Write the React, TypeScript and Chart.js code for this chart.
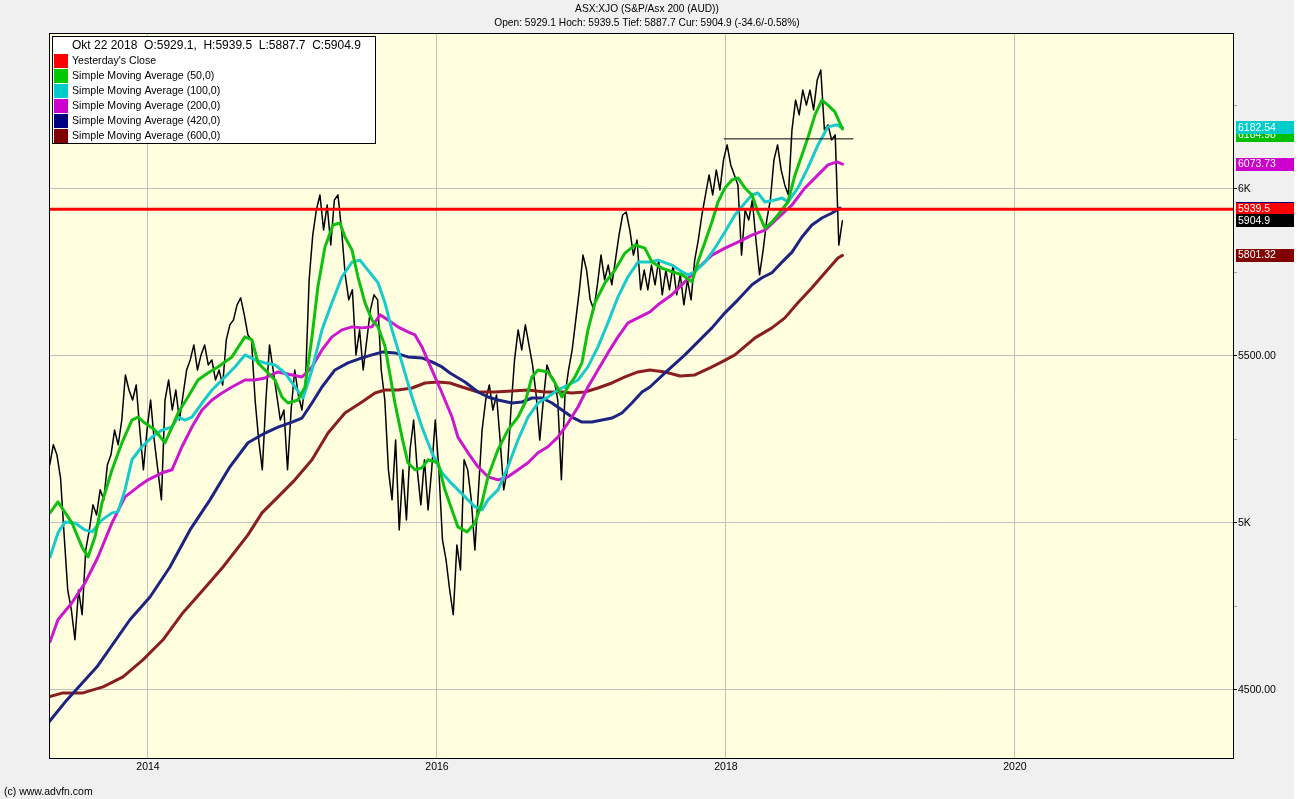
import React, { useEffect, useRef } from 'react';
import { Chart, registerables } from 'chart.js';

Chart.register(...registerables);

// ---------- axis ranges ----------
const X_MIN = 2013.315;
const X_MAX = 2021.516;
const Y_MIN = 4296;
const Y_MAX = 6467;
const xTicks = [2014, 2016, 2018, 2020];
const yTicks = [4500, 4750, 5000, 5250, 5500, 5750, 6000, 6250];
const yTickLabels: Record<number, string> = { 4500: '4500.00', 5000: '5K', 5500: '5500.00', 6000: '6K' };

// ---------- texts ----------
const titleLines = ['ASX:XJO (S&P/Asx 200 (AUD))', 'Open: 5929.1 Hoch: 5939.5 Tief: 5887.7 Cur: 5904.9 (-34.6/-0.58%)'];
const legendHeader = 'Okt 22 2018  O:5929.1,  H:5939.5  L:5887.7  C:5904.9';
const legendLabels = [
  "Yesterday's Close",
  'Simple Moving Average (50,0)',
  'Simple Moving Average (100,0)',
  'Simple Moving Average (200,0)',
  'Simple Moving Average (420,0)',
  'Simple Moving Average (600,0)',
];
const footerText = '(c) www.advfn.com';

// ---------- price (close), evenly spaced dates ----------
const PRICE_START = 2013.32;
const PRICE_END = 2018.806;
const priceValues = [
  5174, 5234, 5204, 5135, 4964, 4799, 4740, 4650, 4799, 4725,
  4919, 4979, 5054, 5024, 5099, 5069, 5174, 5204, 5278, 5234,
  5308, 5443, 5398, 5368, 5413, 5278, 5159, 5278, 5368, 5248,
  5159, 5069, 5368, 5428, 5338, 5398, 5308, 5383, 5458, 5488,
  5533, 5458, 5503, 5533, 5473, 5488, 5428, 5458, 5413, 5548,
  5593, 5608, 5653, 5674, 5623, 5563, 5548, 5368, 5248, 5159,
  5368, 5533, 5458, 5383, 5308, 5338, 5159, 5338, 5458, 5383,
  5338, 5428, 5728, 5862, 5937, 5982, 5877, 5952, 5832, 5967,
  5982, 5877, 5743, 5668, 5698, 5503, 5578, 5458, 5548, 5638,
  5683, 5668, 5458, 5368, 5159, 5069, 5248, 4979, 5159, 5009,
  5219, 5308, 5159, 5054, 5189, 5039, 5159, 5308, 5159, 4949,
  4889, 4799, 4725, 4934, 4859, 5189, 5159, 5069, 4919, 5099,
  5278, 5368, 5413, 5338, 5383, 5248, 5099, 5159, 5338, 5488,
  5578, 5518, 5593, 5533, 5473, 5383, 5248, 5368, 5473, 5443,
  5428, 5368, 5129, 5383, 5458, 5518, 5608, 5698, 5802, 5757,
  5668, 5638, 5713, 5802, 5728, 5772, 5713, 5787, 5862, 5922,
  5931, 5877, 5802, 5847, 5698, 5757, 5698, 5772, 5713, 5787,
  5683, 5757, 5698, 5772, 5683, 5743, 5653, 5728, 5668, 5787,
  5847, 5922, 5982, 6042, 5982, 6057, 5997, 6087, 6132, 6072,
  6042, 6012, 5802, 5937, 5907, 5967, 5847, 5743, 5817, 5907,
  5967, 6087, 6132, 6057, 6012, 5982, 6177, 6266, 6222, 6296,
  6251, 6296, 6237, 6326, 6356, 6177, 6192, 6147, 6162, 5832,
  5904.9,
];

// ---------- moving averages [year, value] ----------
const sma50 = [
  [2013.322, 5030], [2013.377, 5063], [2013.474, 5000], [2013.543, 4928], [2013.585, 4898], [2013.633, 4958],
  [2013.682, 5060], [2013.751, 5159], [2013.820, 5240], [2013.889, 5308], [2013.931, 5317], [2013.979, 5299],
  [2014.048, 5278], [2014.118, 5240], [2014.166, 5287], [2014.208, 5329], [2014.277, 5377], [2014.346, 5428],
  [2014.415, 5449], [2014.484, 5467], [2014.581, 5497], [2014.671, 5557], [2014.720, 5548], [2014.761, 5479],
  [2014.810, 5458], [2014.879, 5428], [2014.927, 5377], [2014.969, 5359], [2015.038, 5368], [2015.087, 5407],
  [2015.135, 5557], [2015.176, 5707], [2015.225, 5826], [2015.280, 5892], [2015.329, 5898], [2015.363, 5856],
  [2015.412, 5817], [2015.453, 5737], [2015.502, 5659], [2015.550, 5608], [2015.592, 5587], [2015.640, 5530],
  [2015.709, 5359], [2015.758, 5257], [2015.799, 5180], [2015.848, 5159], [2015.896, 5165], [2015.938, 5189],
  [2016.007, 5180], [2016.055, 5099], [2016.104, 5039], [2016.145, 4988], [2016.208, 4973], [2016.263, 5000],
  [2016.311, 5060], [2016.353, 5138], [2016.422, 5219], [2016.491, 5278], [2016.561, 5317], [2016.609, 5359],
  [2016.657, 5437], [2016.699, 5458], [2016.768, 5452], [2016.817, 5419], [2016.865, 5377], [2016.907, 5407],
  [2016.955, 5437], [2017.003, 5479], [2017.045, 5578], [2017.093, 5659], [2017.163, 5719], [2017.232, 5757],
  [2017.301, 5808], [2017.370, 5832], [2017.439, 5823], [2017.488, 5781], [2017.557, 5763], [2017.626, 5752],
  [2017.696, 5743], [2017.765, 5722], [2017.806, 5781], [2017.855, 5841], [2017.903, 5901], [2017.945, 5961],
  [2017.993, 6003], [2018.042, 6027], [2018.083, 6033], [2018.131, 6003], [2018.180, 5982], [2018.221, 5931],
  [2018.270, 5883], [2018.318, 5901], [2018.360, 5922], [2018.429, 5961], [2018.478, 6042], [2018.526, 6102],
  [2018.567, 6153], [2018.616, 6222], [2018.664, 6266], [2018.706, 6251], [2018.754, 6231], [2018.806, 6180],
];

const sma100 = [
  [2013.322, 4898], [2013.377, 4970], [2013.426, 5003], [2013.495, 5000], [2013.564, 4979], [2013.612, 4973],
  [2013.682, 5009], [2013.751, 5030], [2013.792, 5033], [2013.841, 5099], [2013.889, 5189], [2013.958, 5228],
  [2014.028, 5257], [2014.097, 5278], [2014.166, 5287], [2014.208, 5317], [2014.256, 5308], [2014.304, 5317],
  [2014.374, 5359], [2014.443, 5398], [2014.533, 5437], [2014.602, 5467], [2014.671, 5503], [2014.740, 5488],
  [2014.810, 5479], [2014.879, 5473], [2014.948, 5449], [2015.017, 5407], [2015.073, 5374], [2015.135, 5458],
  [2015.204, 5578], [2015.273, 5659], [2015.343, 5737], [2015.412, 5781], [2015.467, 5787], [2015.522, 5757],
  [2015.592, 5719], [2015.640, 5659], [2015.689, 5578], [2015.758, 5479], [2015.827, 5377], [2015.896, 5287],
  [2015.965, 5210], [2016.035, 5150], [2016.090, 5123], [2016.125, 5108], [2016.194, 5078], [2016.263, 5048],
  [2016.311, 5039], [2016.353, 5069], [2016.422, 5099], [2016.491, 5168], [2016.561, 5249], [2016.630, 5317],
  [2016.699, 5359], [2016.768, 5377], [2016.837, 5398], [2016.907, 5413], [2016.976, 5428], [2017.045, 5467],
  [2017.114, 5527], [2017.183, 5599], [2017.253, 5677], [2017.322, 5737], [2017.391, 5781], [2017.474, 5781],
  [2017.529, 5787], [2017.626, 5772], [2017.696, 5752], [2017.737, 5743], [2017.785, 5752], [2017.855, 5781],
  [2017.924, 5823], [2017.993, 5871], [2018.062, 5922], [2018.131, 5958], [2018.180, 5982], [2018.221, 5988],
  [2018.270, 5961], [2018.339, 5967], [2018.388, 5973], [2018.429, 5961], [2018.498, 6003], [2018.567, 6063],
  [2018.637, 6132], [2018.706, 6186], [2018.768, 6192], [2018.806, 6183],
];

const sma200 = [
  [2013.322, 4644], [2013.377, 4710], [2013.474, 4761], [2013.564, 4820], [2013.654, 4898], [2013.751, 5000],
  [2013.841, 5078], [2013.931, 5108], [2014.000, 5129], [2014.097, 5150], [2014.166, 5159], [2014.235, 5228],
  [2014.304, 5287], [2014.374, 5338], [2014.443, 5368], [2014.512, 5389], [2014.581, 5407], [2014.671, 5428],
  [2014.740, 5428], [2014.810, 5434], [2014.900, 5452], [2014.997, 5443], [2015.066, 5437], [2015.135, 5467],
  [2015.204, 5518], [2015.273, 5557], [2015.343, 5578], [2015.412, 5587], [2015.481, 5584], [2015.550, 5587],
  [2015.606, 5623], [2015.661, 5608], [2015.730, 5587], [2015.799, 5572], [2015.848, 5563], [2015.896, 5527],
  [2015.965, 5458], [2016.035, 5389], [2016.104, 5317], [2016.145, 5257], [2016.215, 5210], [2016.284, 5168],
  [2016.353, 5138], [2016.422, 5129], [2016.491, 5138], [2016.561, 5159], [2016.630, 5180], [2016.699, 5210],
  [2016.768, 5228], [2016.837, 5257], [2016.907, 5299], [2016.976, 5347], [2017.045, 5407], [2017.114, 5458],
  [2017.183, 5509], [2017.253, 5557], [2017.322, 5599], [2017.391, 5614], [2017.474, 5632], [2017.529, 5653],
  [2017.626, 5683], [2017.716, 5722], [2017.806, 5763], [2017.903, 5802], [2017.993, 5823], [2018.083, 5841],
  [2018.180, 5862], [2018.270, 5877], [2018.360, 5913], [2018.457, 5952], [2018.547, 6003], [2018.637, 6042],
  [2018.706, 6072], [2018.768, 6081], [2018.806, 6074],
];

const sma420 = [
  [2013.315, 4404], [2013.439, 4470], [2013.647, 4569], [2013.875, 4710], [2014.014, 4778], [2014.152, 4868],
  [2014.291, 4979], [2014.429, 5069], [2014.567, 5168], [2014.692, 5240], [2014.810, 5269], [2014.900, 5287],
  [2014.997, 5302], [2015.066, 5314], [2015.135, 5359], [2015.204, 5407], [2015.294, 5458], [2015.384, 5479],
  [2015.481, 5494], [2015.550, 5503], [2015.626, 5512], [2015.709, 5509], [2015.799, 5497], [2015.896, 5494],
  [2015.965, 5482], [2016.035, 5467], [2016.090, 5449], [2016.194, 5422], [2016.284, 5392], [2016.353, 5377],
  [2016.422, 5368], [2016.519, 5359], [2016.588, 5362], [2016.657, 5374], [2016.727, 5374], [2016.796, 5359],
  [2016.865, 5338], [2016.934, 5317], [2017.003, 5302], [2017.073, 5302], [2017.142, 5308], [2017.211, 5314],
  [2017.280, 5329], [2017.349, 5359], [2017.419, 5392], [2017.474, 5407], [2017.578, 5449], [2017.716, 5503],
  [2017.806, 5542], [2017.903, 5584], [2017.993, 5629], [2018.083, 5668], [2018.180, 5713], [2018.249, 5734],
  [2018.318, 5749], [2018.388, 5781], [2018.457, 5811], [2018.526, 5856], [2018.595, 5892], [2018.664, 5913],
  [2018.734, 5928], [2018.789, 5943],
];

const sma600 = [
  [2013.315, 4479], [2013.412, 4491], [2013.550, 4491], [2013.689, 4509], [2013.827, 4539], [2013.965, 4590],
  [2014.104, 4650], [2014.242, 4731], [2014.381, 4799], [2014.519, 4868], [2014.692, 4964], [2014.789, 5030],
  [2014.900, 5078], [2015.017, 5129], [2015.135, 5189], [2015.246, 5269], [2015.363, 5329], [2015.481, 5362],
  [2015.571, 5389], [2015.640, 5398], [2015.730, 5398], [2015.827, 5404], [2015.917, 5419], [2016.007, 5422],
  [2016.090, 5419], [2016.173, 5407], [2016.284, 5392], [2016.401, 5392], [2016.519, 5395], [2016.630, 5398],
  [2016.747, 5392], [2016.865, 5392], [2016.934, 5389], [2017.024, 5392], [2017.114, 5404], [2017.211, 5419],
  [2017.301, 5437], [2017.391, 5452], [2017.474, 5458], [2017.578, 5452], [2017.682, 5440], [2017.785, 5443],
  [2017.889, 5464], [2017.972, 5482], [2018.062, 5503], [2018.201, 5554], [2018.318, 5584], [2018.408, 5614],
  [2018.498, 5659], [2018.595, 5704], [2018.685, 5749], [2018.775, 5793], [2018.806, 5801],
];

// ---------- reference lines ----------
const yesterdayClose = 5939.5;
const trendLevel = 6150;
const trendStart = 2017.986;
const trendEnd = 2018.879;

// ---------- right-hand value markers ----------
const markerValues = [5942.61, 6184.98, 6182.54, 6073.73, 5939.5, 5904.9, 5801.32];
const markerTexts = ['5942.61', '6184.98', '6182.54', '6073.73', '5939.5', '5904.9', '5801.32'];

// ---------- styles ----------
const FONT = '"Liberation Sans", Arial, sans-serif';
const C_RED = '#FF0000';
const C_GREEN = '#00C000';
const C_CYAN = '#00CCCC';
const C_MAGENTA = '#CC00CC';
const C_NAVY = '#000080';
const C_MAROON = '#800000';
const legendColors = [C_RED, '#00C800', C_CYAN, C_MAGENTA, C_NAVY, C_MAROON];
const markerColors = [C_NAVY, C_GREEN, C_CYAN, C_MAGENTA, C_RED, '#000000', C_MAROON];
const markerShift = [0, 8, 0, 0, 0, 0, 0];

const toXY = (arr: number[][]) => arr.map(([x, y]) => ({ x, y }));

const decorPlugin = {
  id: 'decor',
  beforeDraw(chart: any) {
    const { ctx, chartArea: a } = chart;
    ctx.save();
    ctx.fillStyle = '#F0F0F0';
    ctx.fillRect(0, 0, chart.width, chart.height);
    ctx.fillStyle = '#FFFFE0';
    ctx.fillRect(a.left, a.top, a.right - a.left, a.bottom - a.top);
    ctx.restore();
  },
  afterDraw(chart: any) {
    const { ctx, chartArea: a } = chart;
    const yScale = chart.scales.y;
    ctx.save();
    // plot frame
    ctx.strokeStyle = '#000';
    ctx.lineWidth = 1;
    ctx.strokeRect(a.left + 0.5, a.top + 0.5, a.right - a.left - 1, a.bottom - a.top);

    // title
    ctx.fillStyle = '#000';
    ctx.textAlign = 'center';
    ctx.textBaseline = 'middle';
    ctx.font = `10.2px ${FONT}`;
    ctx.fillText(titleLines[0], chart.width / 2, 9);
    ctx.fillText(titleLines[1], chart.width / 2, 23);

    // footer
    ctx.textAlign = 'left';
    ctx.font = `10.5px ${FONT}`;
    ctx.fillText(footerText, 4, 792);

    // legend box
    const lx = a.left + 3;
    const ly = a.top + 3;
    ctx.fillStyle = '#FFFFFF';
    ctx.fillRect(lx, ly, 324, 108);
    ctx.strokeStyle = '#000';
    ctx.strokeRect(lx + 0.5, ly + 0.5, 323, 107);
    ctx.fillStyle = '#000';
    ctx.font = `12px ${FONT}`;
    ctx.fillText(legendHeader, lx + 20, ly + 10);
    ctx.font = `10.6px ${FONT}`;
    legendLabels.forEach((t, k) => {
      ctx.fillStyle = legendColors[k];
      ctx.fillRect(lx + 2, ly + 18 + 15 * k, 14, 14);
      ctx.fillStyle = '#000';
      ctx.fillText(t, lx + 20, ly + 25.5 + 15 * k);
    });

    // right-hand value markers
    ctx.font = `10.5px ${FONT}`;
    markerValues.forEach((v, k) => {
      const yc = yScale.getPixelForValue(v) + markerShift[k];
      const x0 = a.right + 2;
      ctx.fillStyle = markerColors[k];
      ctx.fillRect(x0, Math.round(yc - 6.5), chart.width - x0, 13);
      ctx.fillStyle = '#FFFFFF';
      ctx.fillText(markerTexts[k], x0 + 2, Math.round(yc) + 0.5);
    });
    ctx.restore();
  },
};

function makeConfig(): any {
  const n = priceValues.length;
  const step = (PRICE_END - PRICE_START) / (n - 1);
  const priceData = priceValues.map((v, i) => ({ x: PRICE_START + i * step, y: v }));
  const line = (label: string, data: any[], color: string, width: number, order: number) => ({
    label,
    data,
    borderColor: color,
    backgroundColor: color,
    borderWidth: width,
    pointRadius: 0,
    tension: 0,
    fill: false,
    order,
    borderJoinStyle: 'round',
    borderCapStyle: 'round',
  });
  return {
    type: 'line',
    data: {
      datasets: [
        line("Yesterday's Close", [{ x: X_MIN, y: yesterdayClose }, { x: X_MAX, y: yesterdayClose }], C_RED, 3, 0),
        line('Trend', [{ x: trendStart, y: trendLevel }, { x: trendEnd, y: trendLevel }], '#000000', 1, 1),
        line('SMA 50', toXY(sma50), '#10C010', 3, 2),
        line('SMA 100', toXY(sma100), '#18CACA', 3, 3),
        line('SMA 200', toXY(sma200), '#CC18CC', 3, 4),
        line('SMA 420', toXY(sma420), '#1C2480', 3, 5),
        line('SMA 600', toXY(sma600), '#8A1E1E', 3, 6),
        line('Close', priceData, '#000000', 1.5, 7),
      ],
    },
    options: {
      animation: false,
      responsive: false,
      events: [],
      layout: { padding: { left: 49, top: 33, right: 0, bottom: 0 } },
      plugins: {
        legend: { display: false },
        title: { display: false },
        tooltip: { enabled: false },
      },
      scales: {
        x: {
          type: 'linear',
          min: X_MIN,
          max: X_MAX,
          afterBuildTicks: (s: any) => { s.ticks = xTicks.map((v) => ({ value: v })); },
          afterFit: (s: any) => { s.height = 41; },
          border: { display: false },
          grid: { color: '#C0C0C0', lineWidth: 1, drawTicks: false },
          ticks: {
            autoSkip: false,
            maxRotation: 0,
            padding: 3,
            color: '#000',
            font: { family: FONT, size: 10.5 },
            callback: (v: number) => String(v),
          },
        },
        y: {
          type: 'linear',
          position: 'right',
          min: Y_MIN,
          max: Y_MAX,
          afterBuildTicks: (s: any) => { s.ticks = yTicks.map((v) => ({ value: v })); },
          afterFit: (s: any) => { s.width = 60; },
          border: { display: false },
          grid: {
            color: (c: any) => (c.tick && yTickLabels[c.tick.value] ? '#C0C0C0' : 'rgba(0,0,0,0)'),
            tickColor: (c: any) => (c.tick && yTickLabels[c.tick.value] ? '#000000' : '#A0A0A0'),
            tickLength: 3,
            lineWidth: 1,
          },
          ticks: {
            autoSkip: false,
            padding: 1,
            color: '#000',
            font: { family: FONT, size: 10.5 },
            callback: (v: number) => yTickLabels[v] ?? '',
          },
        },
      },
    },
    plugins: [decorPlugin],
  };
}

export default function App() {
  const ref = useRef<HTMLCanvasElement>(null);
  useEffect(() => {
    const canvas = ref.current;
    if (!canvas) return;
    const chart = new Chart(canvas, makeConfig());
    return () => chart.destroy();
  }, []);
  return (
    <div style={{ position: 'absolute', left: 0, top: 0, width: 1294, height: 799, background: '#F0F0F0' }}>
      <canvas ref={ref} width={1294} height={799} style={{ display: 'block' }} />
    </div>
  );
}
